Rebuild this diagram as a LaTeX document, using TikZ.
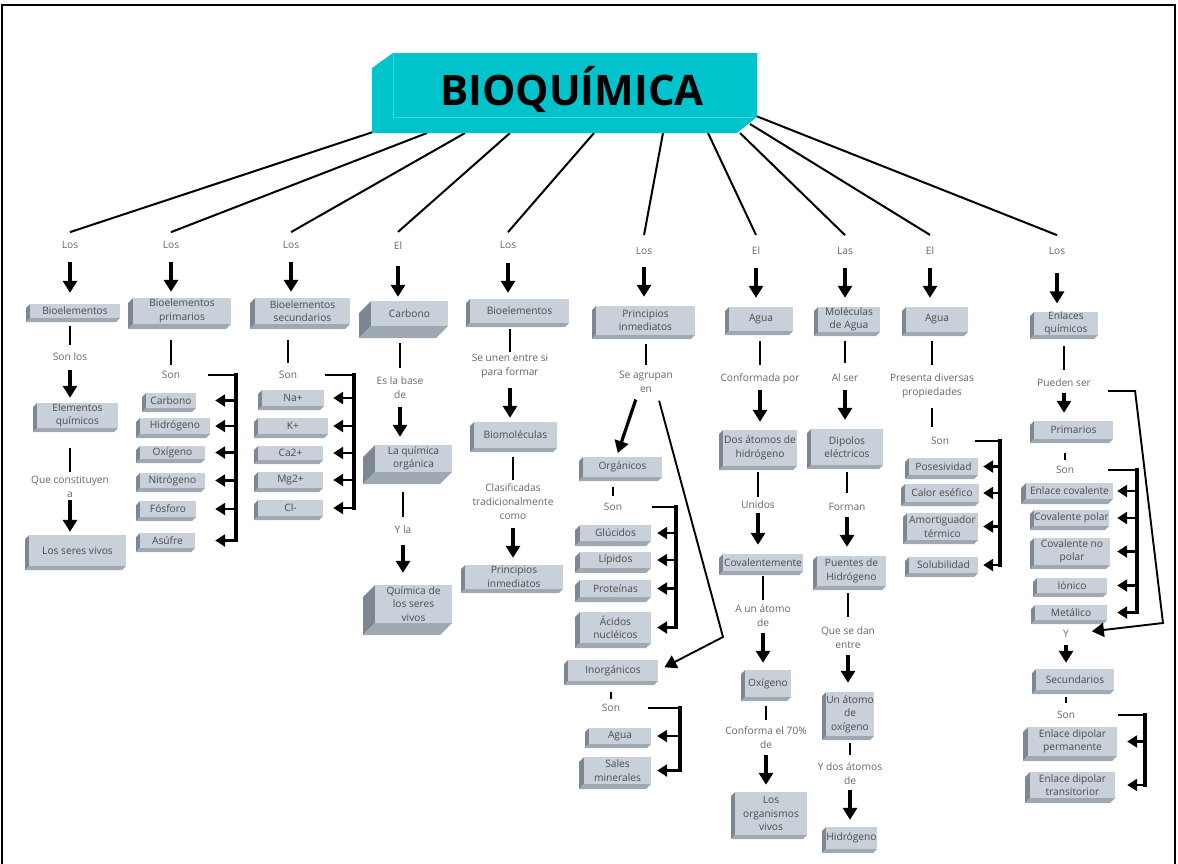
\documentclass[tikz,border=0pt]{standalone}
\usepackage{fontspec}
\setmainfont{Open Sans}
\usetikzlibrary{arrows.meta,calc}
\definecolor{facec}{HTML}{C8D0DA}
\definecolor{sidel}{HTML}{7C8793}
\definecolor{sideb}{HTML}{9FA9B4}
\definecolor{cyanT}{HTML}{00C3CB}
\definecolor{cyanL}{HTML}{40D3DA}
\definecolor{labc}{HTML}{666666}
\definecolor{boxc}{HTML}{4C4C4C}
\tikzset{
  lab/.style={font=\fontsize{10.2}{14}\selectfont, text=labc, align=center, inner sep=0pt},
  face/.style={fill=facec, font=\fontsize{10.2}{13.5}\selectfont, text=boxc, align=center, inner sep=0pt},
  ln/.style={line width=2pt},
  arr/.style={line width=3.2pt, -{Triangle[width=14pt,length=12pt]}},
  barr/.style={line width=2.8pt, -{Triangle[width=12pt,length=10pt]}},
  arrthin/.style={line width=1.9pt, -{Triangle[width=14pt,length=12pt]}},
  vb/.style={line width=3.4pt, line cap=rect},
}
% #1 depth, #2 name, #3 L, #4 T, #5 R, #6 B, #7 text
\newcommand\mybox[7][4]{%
  \fill[sidel] ({#3+#1},{#4}) -- ({#3},{#4+#1}) -- ({#3},{#6}) -- ({#3+#1},{#6-#1}) -- cycle;
  \fill[sideb] ({#3+#1},{#6-#1}) -- ({#5},{#6-#1}) -- ({#5-#1},{#6}) -- ({#3},{#6}) -- cycle;
  \node[face, minimum width={(#5-#3-#1)*1pt}, minimum height={(#6-#1-#4)*1pt}] (#2) at ({(#3+#1+#5)/2},{(#4+#6-#1)/2}) {#7};
}
\newcommand\arrdn[5]{\draw[#1, shorten <=#4pt, shorten >=#5pt] (#2.center) -- (#2.center |- #3.north);}
\newcommand\lndn[5]{\draw[#1, shorten <=#4pt, shorten >=#5pt] (#2.south -| #3.center) -- (#3.center);}
\newcommand\brk[5]{\coordinate (#2) at (#3,#4); \draw[ln, shorten <=#5pt] (#1.east) -- (#2);}
\newcommand\brarr[3]{\draw[barr, shorten >=#3pt] (#1 |- #2.east) -- (#2.east);}
\begin{document}
\begin{tikzpicture}[x=1pt,y=-1pt]
\useasboundingbox (0,0) rectangle (1178,863);
\clip (0,0) rectangle (1178,863);
\draw[line width=2pt] (2,870) -- (2,5) -- (1175,5) -- (1175,870);

% ---------- column 1
\node[lab] (l1a) at (70,245) {Los};
\mybox{b1a}{26}{304}{120}{322}{Bioelementos}
\node[lab] (l1b) at (70,357) {Son los};
\mybox{b1b}{33}{403}{118}{432}{Elementos\\químicos}
\node[lab] (l1c) at (70,487) {Que constituyen\\a};
\mybox{b1c}{25}{535}{126}{570}{Los seres vivos}
% ---------- column 2
\node[lab] (l2a) at (171,245) {Los};
\mybox[5]{b2a}{128}{298}{231}{329}{Bioelementos\\primarios}
\node[lab] (l2b) at (171,375) {Son};
\mybox{c2a}{142}{393}{196}{412}{Carbono}
\mybox{c2b}{136}{418}{210}{438}{Hidrógeno}
\mybox{c2c}{136}{446}{205}{463}{Oxígeno}
\mybox{c2d}{136}{473}{205}{492}{Nitrógeno}
\mybox{c2e}{136}{501}{196}{521}{Fósforo}
\mybox{c2f}{136}{533}{195}{552}{Asúfre}
% ---------- column 3
\node[lab] (l3a) at (291,245) {Los};
\mybox[5]{b3a}{250}{298}{350}{329}{Bioelementos\\secundarios}
\node[lab] (l3b) at (288,375) {Son};
\mybox{c3a}{258}{390}{324}{410}{Na+}
\mybox{c3b}{254}{418}{328}{438}{K+}
\mybox{c3c}{254}{446}{323}{464}{Ca2+}
\mybox{c3d}{254}{472}{323}{492}{Mg2+}
\mybox{c3e}{254}{500}{323}{520}{Cl-}
% ---------- column 4
\node[lab] (l4a) at (398,246) {El};
\mybox[12]{b4a}{359}{301}{448}{338}{Carbono}
\node[lab] (l4b) at (400,388) {Es la base\\de};
\mybox[12]{b4b}{363}{445}{452}{484}{La química\\orgánica}
\node[lab] (l4c) at (403,530) {Y la};
\mybox[12]{b4c}{363}{585}{452}{635}{Química de\\los seres\\vivos}
% ---------- column 5
\node[lab] (l5a) at (508,245) {Los};
\mybox{b5a}{466}{299}{569}{327}{Bioelementos}
\node[lab] (l5b) at (510,366) {Se unen entre si\\para formar};
\mybox{b5b}{470}{422}{557}{452}{Biomoléculas}
\node[lab] (l5c) at (513,502) {Clasificadas\\tradicionalmente\\como};
\mybox{b5c}{461}{565}{563}{593}{Principios\\inmediatos}
% ---------- column 6
\node[lab] (l6a) at (644,251) {Los};
\mybox{b6a}{592}{306}{695}{339}{Principios\\inmediatos}
\node[lab] (l6b) at (646,382) {Se agrupan\\en};
\mybox{b6b}{579}{457}{662}{481}{Orgánicos}
\node[lab] (l6c) at (613,507) {Son};
\mybox[5]{c6a}{575}{525}{651}{546}{Glúcidos}
\mybox[5]{c6b}{575}{552}{651}{573}{Lípidos}
\mybox[5]{c6c}{575}{580}{651}{602}{Proteínas}
\mybox[5]{c6d}{575}{612}{651}{648}{Ácidos\\nucléicos}
\mybox{b6c}{564}{660}{658}{685}{Inorgánicos}
\node[lab] (l6d) at (611,708) {Son};
\mybox{c6e}{585}{728}{651}{748}{Agua}
\mybox[5]{c6f}{579}{757}{651}{789}{Sales\\minerales}
% ---------- column 7
\node[lab] (l7a) at (756,251) {El};
\mybox{b7a}{725}{307}{793}{335}{Agua}
\node[lab] (l7b) at (760,379) {Conformada por};
\mybox{b7b}{719}{430}{797}{470}{Dos átomos de\\hidrógeno}
\node[lab] (l7c) at (758,505) {Unidos};
\mybox{b7c}{719}{554}{803}{575}{Covalentemente}
\node[lab] (l7d) at (763,616) {A un átomo\\de};
\mybox{b7d}{741}{670}{791}{701}{Oxígeno}
\node[lab] (l7e) at (766,738) {Conforma el 70\%\\de};
\mybox{b7e}{731}{792}{807}{839}{Los\\organismos\\vivos}
% ---------- column 8
\node[lab] (l8a) at (845,251) {Las};
\mybox{b8a}{814}{307}{880}{336}{Moléculas\\de Agua}
\node[lab] (l8b) at (845,378) {Al ser};
\mybox{b8b}{807}{429}{883}{469}{Dipolos\\eléctricos}
\node[lab] (l8c) at (847,507) {Forman};
\mybox{b8c}{813}{556}{886}{590}{Puentes de\\Hidrógeno}
\node[lab] (l8d) at (848,638) {Que se dan\\entre};
\mybox{b8d}{822}{692}{874}{740}{Un átomo\\de\\oxígeno}
\node[lab] (l8e) at (850,774) {Y dos átomos\\de};
\mybox{b8e}{822}{827}{877}{853}{Hidrógeno}
% ---------- column 9
\node[lab] (l9a) at (930,251) {El};
\mybox{b9a}{902}{307}{968}{336}{Agua}
\node[lab] (l9b) at (932,386) {Presenta diversas\\propiedades};
\node[lab] (l9c) at (940,441) {Son};
\mybox{c9a}{905}{458}{978}{479}{Posesividad}
\mybox{c9b}{901}{484}{979}{506}{Calor eséfico}
\mybox{c9c}{903}{513}{978}{544}{Amortiguador\\térmico}
\mybox{c9d}{905}{557}{978}{577}{Solubilidad}
% ---------- column 10
\node[lab] (l10a) at (1057,251) {Los};
\mybox{b10a}{1030}{312}{1098}{339}{Enlaces\\químicos}
\node[lab] (l10b) at (1064,383) {Pueden ser};
\mybox{b10b}{1030}{421}{1113}{443}{Primarios}
\node[lab] (l10c) at (1065,470) {Son};
\mybox[5]{c10a}{1021}{483}{1113}{504}{Enlace covalente}
\mybox{c10b}{1030}{510}{1109}{530}{Covalente polar}
\mybox{c10c}{1030}{538}{1110}{569}{Covalente no\\polar}
\mybox{c10d}{1033}{578}{1107}{597}{Iónico}
\mybox{c10e}{1031}{605}{1107}{624}{Metálico}
\node[lab] (l10d) at (1066,634) {Y};
\mybox{b10f}{1032}{669}{1114}{694}{Secundarios}
\node[lab] (l10e) at (1066,715) {Son};
\mybox[5]{c10f}{1023}{727}{1117}{761}{Enlace dipolar\\permanente}
\mybox[5]{c10g}{1025}{772}{1115}{803}{Enlace dipolar\\transitorior}

% ---------- title connectors
\coordinate (t1) at (373,132);
\coordinate (t2) at (427,133);
\coordinate (t3) at (465,133);
\coordinate (t4) at (510,133);
\coordinate (t5) at (594,133);
\coordinate (t6) at (663,133);
\coordinate (t7) at (708,133);
\coordinate (t8) at (740,133);
\coordinate (t9) at (750,124);
\coordinate (t10) at (756,116);
\draw[ln] (t1) -- ([yshift=9pt]l1a.north);
\draw[ln] (t2) -- ([yshift=9pt]l2a.north);
\draw[ln] (t3) -- ([yshift=9pt]l3a.north);
\draw[ln] (t4) -- ([yshift=10pt]l4a.north);
\draw[ln] (t5) -- ([yshift=9pt]l5a.north);
\draw[ln] (t6) -- ([yshift=12pt]l6a.north);
\draw[ln] (t7) -- ([yshift=12pt]l7a.north);
\draw[ln] (t8) -- ([yshift=12pt]l8a.north);
\draw[ln] (t9) -- ([yshift=12pt]l9a.north);
\draw[ln] (t10) -- ([yshift=12pt]l10a.north);

% ---------- column 1 links
\arrdn{arr}{l1a}{b1a}{17}{11}
\lndn{ln}{b1a}{l1b}{8}{12}
\arrdn{arr}{l1b}{b1b}{13}{5}
\lndn{ln}{b1b}{l1c}{20}{15}
\arrdn{arr}{l1c}{b1c}{13}{3}
% ---------- column 2 links
\arrdn{arr}{l2a}{b2a}{17}{6}
\lndn{ln}{b2a}{l2b}{16}{10}
\brk{l2b}{k2}{236}{375}{27.5}
\draw[vb] (k2) -- (k2 |- c2f.east);
\brarr{k2}{c2a}{19}
\brarr{k2}{c2b}{5}
\brarr{k2}{c2c}{10}
\brarr{k2}{c2d}{10}
\brarr{k2}{c2e}{19}
\brarr{k2}{c2f}{20}
% ---------- column 3 links
\arrdn{arr}{l3a}{b3a}{17}{6}
\lndn{ln}{b3a}{l3b}{16}{12}
\brk{l3b}{k3}{354}{375}{27.5}
\draw[vb] (k3) -- (k3 |- c3e.east);
\brarr{k3}{c3a}{9}
\brarr{k3}{c3b}{5}
\brarr{k3}{c3c}{10}
\brarr{k3}{c3d}{10}
\brarr{k3}{c3e}{10}
% ---------- column 4 links
\arrdn{arr}{l4a}{b4a}{20}{4}
\lndn{ln}{b4a}{l4b}{17}{20}
\arrdn{arr}{l4b}{b4b}{19}{8}
\lndn{ln}{b4b}{l4c}{20}{13}
\arrdn{arr}{l4c}{b4c}{15}{12}
% ---------- column 5 links
\arrdn{arr}{l5a}{b5a}{18}{6}
\lndn{ln}{b5a}{l5b}{6}{14}
\arrdn{arr}{l5b}{b5b}{22}{4}
\lndn{ln}{b5b}{l5c}{9}{22}
\arrdn{arr}{l5c}{b5c}{26}{7}
% ---------- column 6 links
\arrdn{arr}{l6a}{b6a}{16}{9}
\lndn{ln}{b6a}{l6b}{9}{17}
\draw[arr, shorten <=7pt, shorten >=4pt] ([xshift=-8pt]l6b.south) -- ([xshift=-6pt]b6b.north);
\coordinate (bend6) at (723,637);
\draw[arrthin, shorten <=8pt, shorten >=7pt] ([xshift=11pt]l6b.south) -- (bend6) -- (b6c.east);
\lndn{ln}{b6b}{l6c}{10}{11}
\brk{l6c}{k6}{676}{507}{29.5}
\draw[vb] (k6) -- (k6 |- c6d.east);
\brarr{k6}{c6a}{6}
\brarr{k6}{c6b}{6}
\brarr{k6}{c6c}{6}
\brarr{k6}{c6d}{6}
\lndn{ln}{b6c}{l6d}{11}{9}
\brk{l6d}{k6b}{680}{708}{27.5}
\draw[vb] (k6b) -- (k6b |- c6f.east);
\brarr{k6b}{c6e}{6}
\brarr{k6b}{c6f}{6}
% ---------- column 7 links
\arrdn{arr}{l7a}{b7a}{17}{9}
\lndn{ln}{b7a}{l7b}{10}{14}
\arrdn{arr}{l7b}{b7b}{11}{8}
\lndn{ln}{b7b}{l7c}{6}{8}
\arrdn{arr}{l7c}{b7c}{8}{9}
\lndn{ln}{b7c}{l7d}{5}{16}
\arrdn{arr}{l7d}{b7d}{17}{7}
\lndn{ln}{b7d}{l7e}{9}{18}
\arrdn{arr}{l7e}{b7e}{17}{7}
% ---------- column 8 links
\arrdn{arr}{l8a}{b8a}{17}{9}
\lndn{ln}{b8a}{l8b}{9}{15}
\arrdn{arr}{l8b}{b8b}{12}{9}
\lndn{ln}{b8b}{l8c}{7}{14}
\arrdn{arr}{l8c}{b8c}{10}{9}
\lndn{ln}{b8c}{l8d}{7}{21}
\arrdn{arr}{l8d}{b8d}{17}{9}
\lndn{ln}{b8d}{l8e}{7}{19}
\arrdn{arr}{l8e}{b8e}{16}{7}
% ---------- column 9 links
\arrdn{arr}{l9a}{b9a}{17}{9}
\lndn{ln}{b9a}{l9b}{9}{21}
\draw[ln, shorten <=22pt, shorten >=14pt] (l9b.center) -- (l9b.center |- l9c.center);
\brk{l9c}{k9}{1000}{441}{25.5}
\draw[vb] (k9) -- (k9 |- c9d.east);
\brarr{k9}{c9a}{5}
\brarr{k9}{c9b}{4}
\brarr{k9}{c9c}{5}
\brarr{k9}{c9d}{5}
% ---------- column 10 links
\arrdn{arr}{l10a}{b10a}{22}{8}
\lndn{ln}{b10a}{l10b}{10}{13}
\arrdn{arr}{l10b}{b10b}{10}{8}
\lndn{ln}{b10b}{l10c}{14}{10}
\brk{l10c}{k10}{1137}{470}{33.5}
\draw[vb] (k10) -- (k10 |- c10e.east);
\brarr{k10}{c10a}{4}
\brarr{k10}{c10b}{8}
\brarr{k10}{c10c}{7}
\brarr{k10}{c10d}{10}
\brarr{k10}{c10e}{10}
\coordinate (bend10) at (1163,623);
\draw[arrthin, shorten >=23pt] ([xshift=17pt,yshift=-8pt]l10b.east) -- ++(27,0) -- (bend10) -- (l10d.east);
\arrdn{arr}{l10d}{b10f}{11}{6}
\lndn{ln}{b10f}{l10e}{7}{12}
\brk{l10e}{k10b}{1145}{715}{42.5}
\draw[vb] (k10b) -- (k10b |- c10g.east);
\brarr{k10b}{c10f}{10}
\brarr{k10b}{c10g}{12}

% ---------- title block
\fill[cyanT] (393,53) -- (757,53) -- (757,117) -- (737,133) -- (372,133) -- (372,68) -- cycle;
\draw[cyanL, line width=0.8pt] (393,53) -- (393,117) -- (757,117);
\node[anchor=base, font=\bfseries\fontsize{42}{42}\selectfont, inner sep=0pt] (title) at (572,105) {BIOQUÍMICA};
\end{tikzpicture}
\end{document}
